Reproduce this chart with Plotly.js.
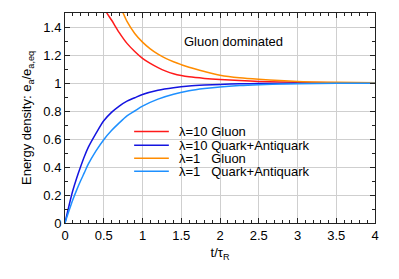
<!DOCTYPE html>
<html>
<head>
<meta charset="utf-8">
<script src="https://cdn.plot.ly/plotly-3.0.1.min.js"></script>
<style>html,body{margin:0;padding:0;background:#fff}#chart{width:399px;height:279px}</style>
</head>
<body>
<div id="chart"></div>
<script>
// t/tau_R sample points and curve values
var tGluon10 = [0.45,0.5,0.54,0.6,0.7,0.8,0.9,1.0,1.1,1.2,1.3,1.4,1.5,1.6,1.8,2.0,2.25,2.5,3.0,3.5,4.0];
var gluon10  = [1.62,1.55,1.5,1.45,1.36,1.283,1.225,1.176,1.14,1.11,1.085,1.066,1.053,1.044,1.033,1.025,1.017,1.011,1.005,1.002,1.001];

var tGluon1 = [0.6,0.7,0.75,0.8,0.9,1.0,1.1,1.2,1.3,1.4,1.5,1.6,1.8,2.0,2.25,2.5,3.0,3.5,4.0];
var gluon1  = [1.765,1.57,1.5,1.44,1.354,1.292,1.244,1.206,1.176,1.152,1.131,1.112,1.082,1.056,1.037,1.026,1.011,1.005,1.002];

var tQuark = [0,0.05,0.1,0.15,0.2,0.25,0.3,0.4,0.5,0.6,0.7,0.8,0.9,1.0,1.2,1.4,1.6,1.8,2.0,2.25,2.5,3.0,3.5,4.0];
var quark10 = [0,0.12,0.23,0.32,0.40,0.475,0.54,0.64,0.73,0.79,0.835,0.87,0.895,0.918,0.948,0.966,0.978,0.985,0.99,0.994,0.996,0.998,0.999,1.0];
var quark1  = [0,0.085,0.165,0.235,0.30,0.36,0.42,0.515,0.595,0.66,0.715,0.765,0.80,0.835,0.885,0.92,0.944,0.96,0.972,0.982,0.988,0.995,0.998,0.999];

var seriesNames = ['λ=10 Gluon','λ=10 Quark+Antiquark','λ=1\u00a0\u00a0\u00a0Gluon','λ=1\u00a0\u00a0\u00a0Quark+Antiquark'];
var seriesColors = ['#ff1a1a','#1414e0','#ff8c00','#1e90ff'];

var xTicks = [0,0.5,1,1.5,2,2.5,3,3.5,4];
var yTicks = [0,0.2,0.4,0.6,0.8,1,1.2,1.4];

var FONT = 'Liberation Sans, Arial, Helvetica, sans-serif';

var xs = [tGluon10, tQuark, tGluon1, tQuark];
var ys = [gluon10, quark10, gluon1, quark1];
var traces = xs.map(function(x, i){
  return {x: x, y: ys[i], type:'scatter', mode:'lines', name: seriesNames[i],
          line:{color: seriesColors[i], width:1.5, shape:'spline', smoothing:0.8}, showlegend:false};
});

// compact legend drawn with shapes + annotations
var shapes = [{type:'rect', xref:'paper', yref:'paper', x0:0.197, x1:0.903, y0:0.215, y1:0.47,
               fillcolor:'#fff', line:{width:0}, layer:'between'}];
var annotations = [{text:'Gluon dominated', xref:'x', yref:'y', x:1.51, y:1.295, xanchor:'left', yanchor:'middle',
                    showarrow:false, font:{family:FONT, size:13, color:'#000'}}];
var rowY = [0.436, 0.37, 0.308, 0.246];
for (var i = 0; i < 4; i++) {
  shapes.push({type:'line', xref:'paper', yref:'paper', x0:0.223, x1:0.335, y0:rowY[i], y1:rowY[i],
               line:{color:seriesColors[i], width:1.5}, layer:'above'});
  annotations.push({text:seriesNames[i], xref:'paper', yref:'paper', x:0.36, y:rowY[i], xanchor:'left', yanchor:'middle',
                    showarrow:false, font:{family:FONT, size:13, color:'#000'}});
}

var axisCommon = {
  showline:true, linecolor:'#222', linewidth:1, mirror:'allticks',
  ticks:'inside', ticklen:5, tickcolor:'#222', tickwidth:1,
  showgrid:true, gridcolor:'#cfcfcf', gridwidth:1, zeroline:false,
  tickfont:{family:FONT, size:13, color:'#000'},
  minor:{ticks:'inside', ticklen:3, tickcolor:'#222', showgrid:false}
};

var layout = {
  width:399, height:279,
  margin:{l:65, r:24, t:13, b:56},
  paper_bgcolor:'#fff', plot_bgcolor:'#fff',
  showlegend:false,
  xaxis: Object.assign({}, axisCommon, {
    range:[0,4], tickmode:'array', tickvals:xTicks, ticktext:xTicks.map(String),
    minor:Object.assign({}, axisCommon.minor, {dtick:0.1, tick0:0}),
    title:{text:'t/τ<sub>R</sub>', font:{family:FONT, size:13, color:'#000'}, standoff:6}
  }),
  yaxis: Object.assign({}, axisCommon, {
    range:[0,1.5], tickmode:'array', tickvals:yTicks, ticktext:yTicks.map(String),
    minor:Object.assign({}, axisCommon.minor, {dtick:0.1, tick0:0}),
    title:{text:'Energy density: e<sub>a</sub>/e<sub>a,eq</sub>', font:{family:FONT, size:13, color:'#000'}, standoff:8}
  }),
  shapes: shapes,
  annotations: annotations
};

Plotly.newPlot('chart', traces, layout, {staticPlot:true, displayModeBar:false});
</script>
</body>
</html>
